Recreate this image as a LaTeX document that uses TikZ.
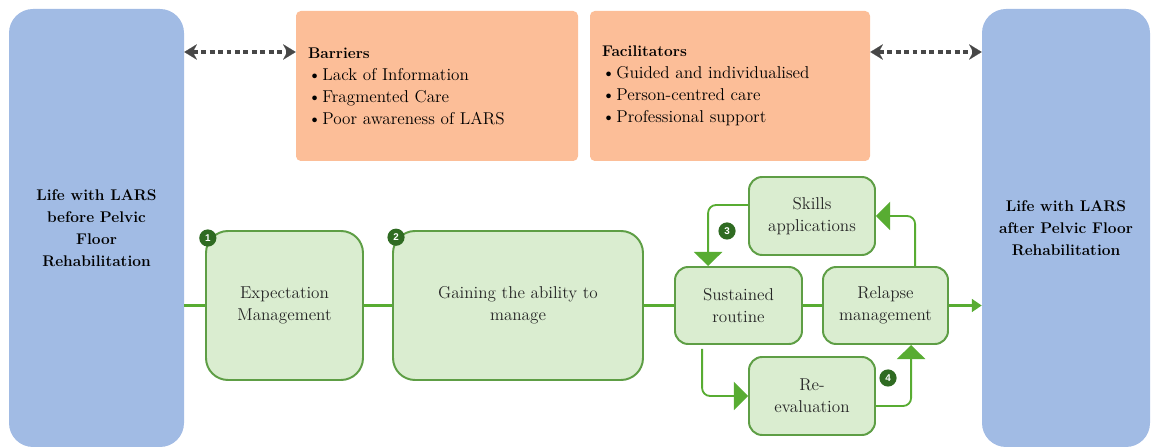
\documentclass[tikz,border=0pt]{standalone}
\usepackage{fontspec}
\setsansfont{Liberation Sans}
\definecolor{LifeBlue}{HTML}{A1BBE4}
\definecolor{FactorOrange}{HTML}{FCBE98}
\definecolor{StageFill}{HTML}{DAEDD0}
\definecolor{StageLine}{HTML}{5E9E45}
\definecolor{FlowGreen}{HTML}{58AC32}
\definecolor{BadgeGreen}{HTML}{2F6B22}
\definecolor{DotGray}{HTML}{474747}
\usetikzlibrary{arrows.meta, positioning, calc}
\newcommand{\pointitem}{\makebox[0.36cm][l]{\textbullet}}

\begin{document}
\begin{tikzpicture}[
        every node/.style={font=\rmfamily\fontsize{12.2}{15.6}\selectfont},
        life/.style={fill=LifeBlue, rounded corners=0.6cm, align=center, font=\rmfamily\fontsize{11}{15.6}\selectfont\bfseries},
        factor/.style={fill=FactorOrange, rounded corners=0.12cm, text width=6.45cm, inner sep=0.3cm, minimum height=3.75cm, align=left},
        stage/.style={draw=StageLine, line width=1.4pt, fill=StageFill, align=center, text=black!85, inner sep=2pt},
        badge/.style={circle, fill=BadgeGreen, text=white, minimum size=0.43cm, inner sep=0pt, font=\sffamily\bfseries\fontsize{7}{8}\selectfont},
        mainline/.style={FlowGreen, line width=2.2pt},
        looparrow/.style={FlowGreen, line width=1.3pt, rounded corners=0.2cm, -{Triangle[width=20pt,length=10pt]}},
        dotarrow/.style={DotGray, line width=3pt, dash pattern=on 3.5pt off 2.5pt,
            {Stealth[length=9pt,width=11pt,line width=0.1pt]}-{Stealth[length=9pt,width=11pt,line width=0.1pt]}}
    ]
        \useasboundingbox (0,0) rectangle (28.8,11.2);

        % life before and after
        \node[life, minimum width=4.375cm, minimum height=10.95cm] (before) at (2.4125,5.5) {Life with LARS\\before Pelvic\\Floor\\Rehabilitation};
        \node[life, minimum width=4.2cm, minimum height=10.95cm] (after) at (26.65,5.5) {Life with LARS\\after Pelvic Floor\\Rehabilitation};

        % barriers and facilitators
        \node[factor] (barriers) at (10.925,9.05) {{\fontsize{11}{15.6}\selectfont\bfseries Barriers}\\\pointitem Lack of Information\\\pointitem Fragmented Care\\\pointitem Poor awareness of LARS};
        \node[factor, text width=6.4cm] (facilitators) at (18.25,9.05) {{\fontsize{11}{15.6}\selectfont\bfseries Facilitators}\\\pointitem Guided and individualised\\\pointitem Person-centred care\\\pointitem Professional support};

        \coordinate (dotlevel) at (0,9.9);
        \draw[dotarrow] (before.east |- dotlevel) -- (barriers.west |- dotlevel);
        \draw[dotarrow] (facilitators.east |- dotlevel) -- (after.west |- dotlevel);

        % stages
        \node[stage, rounded corners=0.55cm, minimum width=3.925cm, minimum height=3.725cm] (expect) at (7.1125,3.5625) {Expectation\\Management};
        \node[stage, rounded corners=0.55cm, minimum width=6.25cm, minimum height=3.725cm] (gaining) at (12.95,3.5625) {Gaining the ability to\\manage};
        \node[stage, rounded corners=0.33cm, minimum width=3.175cm, minimum height=1.925cm] (sustained) at (18.4625,3.5625) {Sustained\\routine};
        \node[stage, rounded corners=0.33cm, minimum width=3.125cm, minimum height=1.925cm] (relapse) at (22.1375,3.5625) {Relapse\\management};
        \node[stage, rounded corners=0.33cm, minimum width=3.15cm, minimum height=1.95cm] (skills) at (20.3,5.8) {Skills\\applications};
        \node[stage, rounded corners=0.33cm, minimum width=3.15cm, minimum height=1.95cm] (reeval) at (20.3,1.3) {Re-\\evaluation};

        \node[badge] (b1) at ($(expect.north west)+(0.07,-0.2)$) {1};
        \node[badge] (b2) at ($(gaining.north west)+(0.1,-0.18)$) {2};
        \node[badge] (b3) at (18.175,5.425) {3};
        \node[badge] (b4) at (22.2,1.75) {4};

        % main flow
        \draw[mainline] (expect.west -| before.east) -- (expect.west);
        \draw[mainline] (expect.east) -- (gaining.west);
        \draw[mainline] (gaining.east) -- (sustained.west);
        \draw[mainline] (sustained.east) -- (relapse.west);
        \draw[mainline, -{Triangle[width=9pt,length=7pt]}] (relapse.east) -- (relapse.east -| after.west);

        % maintenance loop
        \draw[looparrow] ([yshift=0.275cm]skills.west) -| ([xshift=-0.76cm]sustained.north);
        \draw[looparrow] ([xshift=0.74cm]relapse.north) |- (skills.east);
        \draw[looparrow, shorten <=0.1cm] ([xshift=-0.91cm]sustained.south) |- (reeval.west);
        \draw[looparrow] ([yshift=-0.25cm]reeval.east) -| ([xshift=0.64cm]relapse.south);
    \end{tikzpicture}
\end{document}
